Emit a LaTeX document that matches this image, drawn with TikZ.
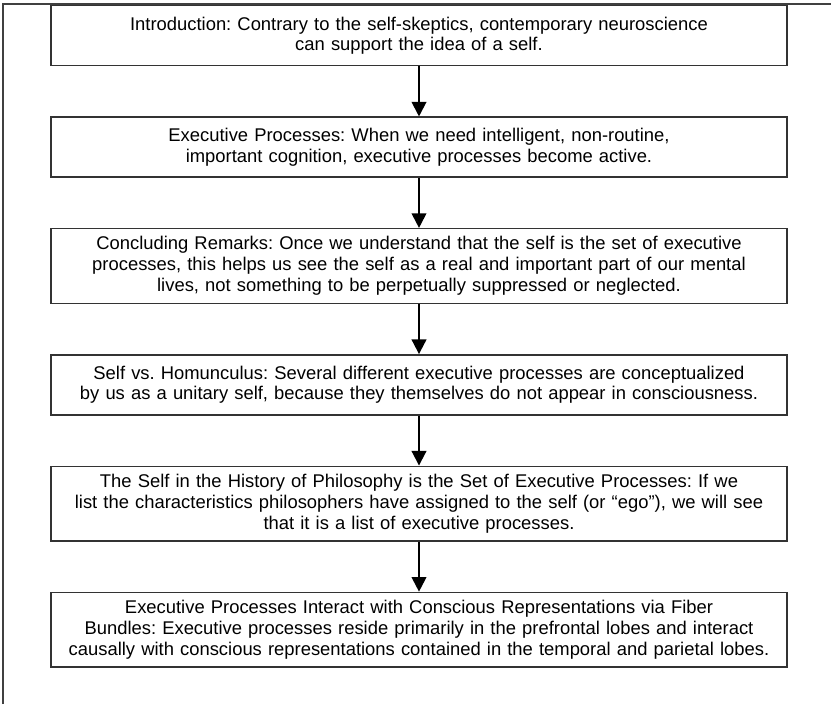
\documentclass[tikz,border=0pt]{standalone}
\usepackage{fontspec}
\setmainfont{Liberation Sans}
\usetikzlibrary{arrows.meta, positioning}
\frenchspacing

\begin{document}
\begin{tikzpicture}[
    x=0.75pt, y=-0.75pt,
    node distance=37.5pt,
    every node/.style={rectangle, draw=black!80, line width=1.1pt, align=center,
        text width=540pt, minimum height=45pt, inner xsep=6pt, inner ysep=3pt},
    tall/.style={minimum height=56pt},
    frame/.style={draw=black!75, line width=0.8pt},
    >={Triangle[width=11pt,length=11pt]},
    font=\fontsize{13.8}{15.6}\selectfont
]

\useasboundingbox (0,0) rectangle (831,704);
\draw[frame] (3,704) -- (3,4) -- (831,4);

\node[anchor=north] (n1) at (419,5) {Introduction: Contrary to the self-skeptics, contemporary neuroscience\\ can support the idea of a self.};
\node[below=of n1] (n2) {Executive Processes: When we need intelligent, non-routine,\\ important cognition, executive processes become active.};
\node[tall, below=of n2] (n3) {Concluding Remarks: Once we understand that the self is the set of executive\\ processes, this helps us see the self as a real and important part of our mental\\ lives, not something to be perpetually suppressed or neglected.};
\node[below=of n3] (n4) {Self vs. Homunculus: Several different executive processes are conceptualized\\ by us as a unitary self, because they themselves do not appear in consciousness.};
\node[tall, below=of n4] (n5) {The Self in the History of Philosophy is the Set of Executive Processes: If we\\ list the characteristics philosophers have assigned to the self (or “ego”), we will see\\ that it is a list of executive processes.};
\node[tall, below=of n5] (n6) {Executive Processes Interact with Conscious Representations via Fiber\\ Bundles: Executive processes reside primarily in the prefrontal lobes and interact\\ causally with conscious representations contained in the temporal and parietal lobes.};

\draw[->, line width=1.5pt] (n1) -- (n2);
\draw[->, line width=1.5pt] (n2) -- (n3);
\draw[->, line width=1.5pt] (n3) -- (n4);
\draw[->, line width=1.5pt] (n4) -- (n5);
\draw[->, line width=1.5pt] (n5) -- (n6);

\end{tikzpicture}
\end{document}
